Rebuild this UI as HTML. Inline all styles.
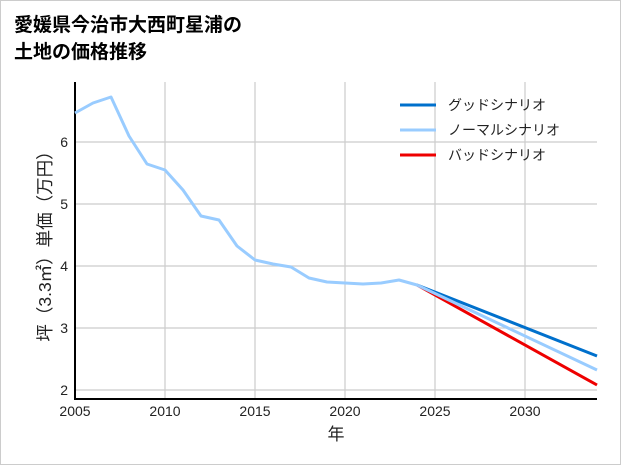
<!DOCTYPE html>
<html><head><meta charset="utf-8"><style>
body{margin:0;background:#fff;}
svg{display:block;font-family:"Liberation Sans","Noto Sans CJK JP",sans-serif;}
</style></head><body>
<svg width="621" height="465" viewBox="0 0 621 465">
<rect x="0.5" y="0.5" width="620" height="464" fill="#fff" stroke="#ccc"/>
<text x="14" y="31" font-size="19" font-weight="bold" fill="#000">愛媛県今治市大西町星浦の</text>
<text x="14" y="58" font-size="19" font-weight="bold" fill="#000">土地の価格推移</text>
<g stroke="#ccc" stroke-width="1.2">
<line x1="165" y1="82" x2="165" y2="399"/><line x1="255" y1="82" x2="255" y2="399"/>
<line x1="345" y1="82" x2="345" y2="399"/><line x1="435" y1="82" x2="435" y2="399"/>
<line x1="525" y1="82" x2="525" y2="399"/>
<line x1="75" y1="142" x2="597" y2="142"/><line x1="75" y1="204" x2="597" y2="204"/>
<line x1="75" y1="266" x2="597" y2="266"/><line x1="75" y1="328" x2="597" y2="328"/>
<line x1="75" y1="390" x2="597" y2="390"/>
</g>
<line x1="75" y1="82" x2="75" y2="400" stroke="#000" stroke-width="2"/>
<line x1="74" y1="399" x2="597" y2="399" stroke="#000" stroke-width="2"/>
<g font-size="14" fill="#222" text-anchor="end">
<text x="68" y="147">6</text><text x="68" y="209">5</text><text x="68" y="271">4</text><text x="68" y="333">3</text><text x="68" y="395">2</text>
</g>
<g font-size="14" fill="#222" text-anchor="middle">
<text x="75" y="416">2005</text><text x="165" y="416">2010</text><text x="255" y="416">2015</text>
<text x="345" y="416">2020</text><text x="435" y="416">2025</text><text x="525" y="416">2030</text>
<text x="336" y="440" font-size="17">年</text>
</g>
<text transform="translate(51,242) rotate(-90)" font-size="17.5" fill="#222" text-anchor="middle">坪（3.3㎡）単価（万円）</text>
<polyline fill="none" stroke="#0070cc" stroke-width="3" points="417,285 597,356"/>
<polyline fill="none" stroke="#ee0000" stroke-width="3" points="417,285 597,385"/>
<polyline fill="none" stroke="#99ccff" stroke-width="3" stroke-linejoin="round" points="75,113 93,103 111,97 129,136 147,164 165,170 183,190 201,216 219,220 237,246 255,260 273,264 291,267 309,278 327,282 345,283 363,284 381,283 399,280 417,285 597,370"/>
<g font-size="14" fill="#222">
<line x1="400" y1="105" x2="436" y2="105" stroke="#0070cc" stroke-width="3"/><text x="448" y="110">グッドシナリオ</text>
<line x1="400" y1="130" x2="436" y2="130" stroke="#99ccff" stroke-width="3"/><text x="448" y="135">ノーマルシナリオ</text>
<line x1="400" y1="155" x2="436" y2="155" stroke="#ee0000" stroke-width="3"/><text x="448" y="160">バッドシナリオ</text>
</g>
</svg>
</body></html>
